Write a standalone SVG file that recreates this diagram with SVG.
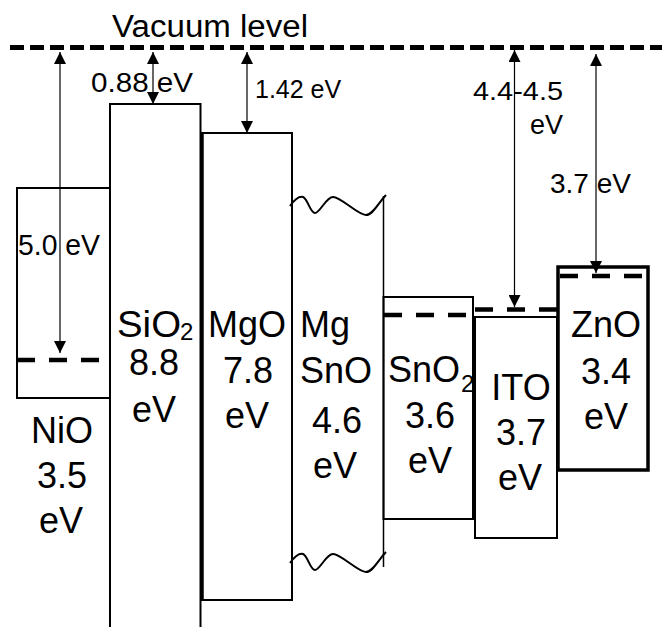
<svg xmlns="http://www.w3.org/2000/svg" width="662" height="627" viewBox="0 0 662 627">
<defs>
<style>
text{font-family:"Liberation Sans",Arial,sans-serif;fill:#000}
.lbl{font-size:36px}
.mid{text-anchor:middle}
.sub{font-size:24px}
.ev{font-size:28px}
.box{fill:none;stroke:#000;stroke-width:2}
.thin{fill:none;stroke:#000;stroke-width:1.5}
.wave{fill:none;stroke:#000;stroke-width:2}
.dash{fill:none;stroke:#000;stroke-width:4.5;stroke-dasharray:18 14}
.arr{fill:none;stroke:#000;stroke-width:1.2;marker-start:url(#ah);marker-end:url(#ah)}
</style>
<marker id="ah" markerUnits="userSpaceOnUse" markerWidth="12" markerHeight="12" refX="12" refY="6" orient="auto-start-reverse">
<path d="M0,0 L12,6 L0,12 z" fill="#000"/>
</marker>
</defs>
<rect width="662" height="627" fill="#fff"/>

<g id="vacuum">
<line x1="10" y1="47.5" x2="662" y2="47.5" stroke="#000" stroke-width="5" stroke-dasharray="14 6"/>
<text x="112" y="37" font-size="31" textLength="196" lengthAdjust="spacingAndGlyphs">Vacuum level</text>
</g>

<g id="NiO">
<rect class="box" x="17" y="188" width="93" height="210"/>
<line class="dash" x1="17" y1="360" x2="104" y2="360"/>
<text class="lbl mid" x="62" y="443">NiO</text>
<text class="lbl mid" x="62" y="488">3.5</text>
<text class="lbl mid" x="61" y="533">eV</text>
</g>

<g id="SiO2">
<rect class="box" x="110" y="104" width="90.5" height="540"/>
<text class="lbl" x="117" y="337" textLength="64" lengthAdjust="spacingAndGlyphs">SiO</text>
<text class="sub" x="180" y="340">2</text>
<text class="lbl mid" x="154" y="375">8.8</text>
<text class="lbl mid" x="154" y="422">eV</text>
</g>

<g id="MgO">
<rect class="box" x="202" y="133" width="90" height="467"/>
<line x1="202" y1="133" x2="202" y2="600" stroke="#000" stroke-width="3.5"/>
<text class="lbl mid" x="247" y="337">MgO</text>
<text class="lbl mid" x="248" y="383">7.8</text>
<text class="lbl mid" x="247" y="428">eV</text>
</g>

<g id="MgSnO">
<path class="wave" d="M290,206 C295,199 299,196 303,197 C308,199 310,213 315,213 C320,213 326,197 333,197 C341,197 358,215 366,215 C373,215 379,202 386,195"/>
<path class="wave" d="M290,563 C295,556 299,553 303,554 C308,556 310,570 315,570 C320,570 326,554 333,554 C341,554 358,572 366,572 C373,572 379,559 386,552"/>
<line class="thin" x1="383.5" y1="196" x2="383.5" y2="567"/>
<text class="lbl" x="300" y="337">Mg</text>
<text class="lbl" x="300" y="383">SnO</text>
<text class="lbl mid" x="337" y="433">4.6</text>
<text class="lbl mid" x="335" y="478">eV</text>
</g>

<g id="SnO2">
<rect class="box" x="383.5" y="297" width="89.5" height="222"/>
<line class="dash" x1="384" y1="315" x2="473" y2="315"/>
<text class="lbl" x="388" y="382">SnO</text>
<text class="sub" x="461" y="392">2</text>
<text class="lbl mid" x="430" y="428">3.6</text>
<text class="lbl mid" x="430" y="473">eV</text>
</g>

<g id="ITO">
<rect class="box" x="475" y="317" width="82" height="221"/>
<line class="dash" x1="475" y1="309.5" x2="560" y2="309.5"/>
<text class="lbl mid" x="521" y="400">ITO</text>
<text class="lbl mid" x="521" y="445">3.7</text>
<text class="lbl mid" x="520" y="490">eV</text>
</g>

<g id="ZnO">
<rect x="558" y="267" width="90" height="203" fill="none" stroke="#000" stroke-width="3.5"/>
<line class="dash" x1="560" y1="276" x2="648" y2="276"/>
<text class="lbl mid" x="606" y="337">ZnO</text>
<text class="lbl mid" x="606" y="384">3.4</text>
<text class="lbl mid" x="606" y="429">eV</text>
</g>

<g id="connectors">
<line class="arr" x1="60" y1="52" x2="60" y2="353"/>
<line class="arr" x1="153" y1="52" x2="153" y2="104"/>
<line class="arr" x1="247" y1="52" x2="247" y2="133"/>
<line class="arr" x1="514.5" y1="50" x2="514.5" y2="307"/>
<line class="arr" x1="596" y1="54" x2="596" y2="273"/>
</g>

<g id="labels">
<text class="ev" x="91" y="92" textLength="102" lengthAdjust="spacingAndGlyphs">0.88 eV</text>
<text x="255" y="98" font-size="25">1.42 eV</text>
<text x="18" y="255" font-size="29" textLength="82" lengthAdjust="spacingAndGlyphs">5.0 eV</text>
<text x="563" y="100" font-size="26" text-anchor="end" textLength="90" lengthAdjust="spacingAndGlyphs">4.4-4.5</text>
<text x="563" y="134" font-size="27" text-anchor="end">eV</text>
<text class="ev" x="550" y="193">3.7 eV</text>
</g>
</svg>
